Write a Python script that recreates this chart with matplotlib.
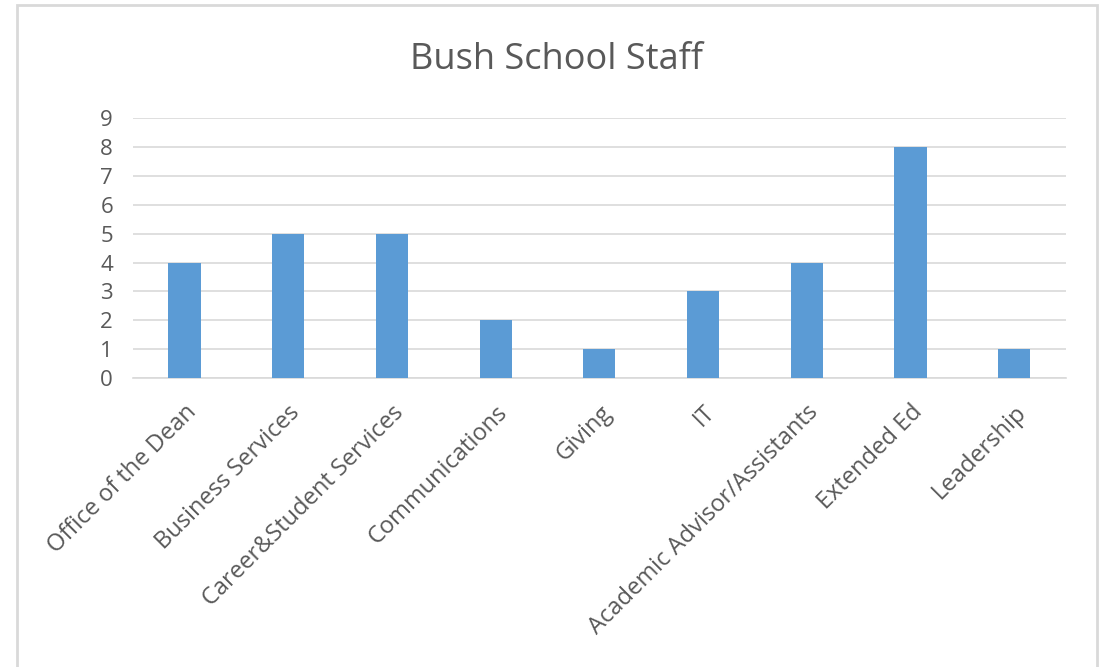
import matplotlib.pyplot as plt
from matplotlib.patches import Rectangle
import numpy as np

categories = ["Office of the Dean", "Business Services", "Career&Student Services",
              "Communications", "Giving", "IT", "Academic Advisor/Assistants",
              "Extended Ed", "Leadership"]
staff = [4, 5, 5, 2, 1, 3, 4, 8, 1]
yticks = list(range(0, 10))

plt.rcParams['font.family'] = ['Open Sans', 'DejaVu Sans']

fig = plt.figure(figsize=(11.14, 6.67), dpi=100)
ax = fig.add_axes([0.119, 0.433, 0.838, 0.39])

x = np.arange(len(categories))
ax.bar(x, staff, width=0.31, color='#5B9BD5', zorder=3)

ax.set_xlim(-0.5, len(categories) - 0.5)
ax.set_ylim(0, 9)
ax.set_yticks(yticks)
ax.set_xticks(x)
ax.set_xticklabels(categories, rotation=45, ha='right', va='top',
                   rotation_mode='anchor', fontsize=17, color='#595959')
ax.tick_params(axis='y', labelsize=16, labelcolor='#595959', length=0, pad=14)
ax.tick_params(axis='x', length=0, pad=16)
ax.grid(axis='y', color='#D9D9D9', linewidth=1.2, zorder=0)
for s in ['top', 'right', 'left']:
    ax.spines[s].set_visible(False)
ax.spines['bottom'].set_color('#D9D9D9')
ax.spines['bottom'].set_linewidth(1.2)

fig.text(0.5, 0.91, "Bush School Staff", ha='center', va='center',
         fontsize=26, color='#595959')

fig.patches.append(Rectangle((17 / 1114, -0.05), 1080 / 1114, 1.05 - 5 / 667,
                             transform=fig.transFigure, fill=False,
                             edgecolor='#D9D9D9', linewidth=2))

fig.savefig("out.png", dpi=100)
